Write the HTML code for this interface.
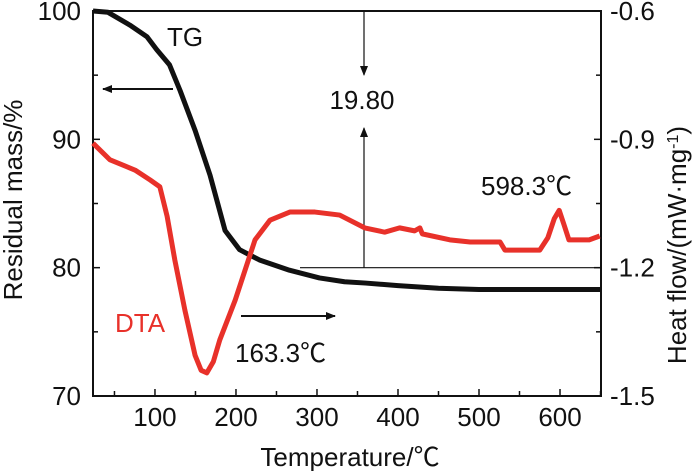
<!DOCTYPE html>
<html><head><meta charset="utf-8"><style>
body{margin:0;background:#fff}
svg text{font-family:"Liberation Sans","Noto Sans CJK SC",sans-serif;fill:#111}
</style></head><body>
<svg id="c" width="700" height="471"></svg>
<script>
const xTicks=[100,200,300,400,500,600];
const yLeftTicks=[70,80,90,100];
const yRightLabels=["-1.5","-1.2","-0.9","-0.6"];
const tgTemp=[23.5,42,69,90,102,118,131,149.5,168,186.5,204.5,229,266,303,334,360,400,450,500,550,600,630,650];
const tgMass=[100,99.9,98.9,98,97,95.8,93.8,90.7,87.2,82.9,81.4,80.6,79.8,79.2,78.9,78.8,78.6,78.4,78.3,78.3,78.3,78.3,78.3];
const dtaTemp=[23.5,44.5,75.5,94,106,115,124.5,137,149.5,157,164,172,180,199,223.5,242,266.5,297.5,328,359,383.5,402,420.5,427,430,464,489,526,532,575,585,593,599,605,611,636,649];
const dtaHeat=[-0.909,-0.948,-0.972,-0.995,-1.011,-1.08,-1.182,-1.30,-1.405,-1.44,-1.446,-1.42,-1.369,-1.276,-1.135,-1.089,-1.07,-1.07,-1.077,-1.107,-1.117,-1.107,-1.114,-1.107,-1.121,-1.135,-1.14,-1.14,-1.159,-1.159,-1.13,-1.085,-1.066,-1.10,-1.135,-1.135,-1.126];
const L=93,R=601,T=11,B=396;
const X=t=>L+(t-23.5)/(650.6-23.5)*(R-L);
const YL=v=>B-(v-70)/30*(B-T);
const YR=v=>B-(v+1.5)/0.9*(B-T);
const s=document.getElementById('c');const NS="http://www.w3.org/2000/svg";
function el(tag,a,txt){const e=document.createElementNS(NS,tag);for(const k in a)e.setAttribute(k,a[k]);if(txt!=null)e.textContent=txt;s.appendChild(e);return e;}
let e;
e=el('defs',{});e.innerHTML='<marker id="ah" markerWidth="10" markerHeight="8" refX="9" refY="4" orient="auto" markerUnits="userSpaceOnUse"><path d="M0,0L10,4L0,8z" fill="#111"/></marker>';
e=el('rect',{x:L,y:T,width:R-L,height:B-T,fill:'none',stroke:'#111','stroke-width':2});


for(let t=50;t<=650;t+=50){const x=X(t);if(x<L||x>R)continue;const len=t%100==0?7:5;
e=el('line',{x1:x,x2:x,y1:B,y2:B-len,stroke:'#111','stroke-width':1.5});

}
xTicks.forEach(t=>{e=el('text',{x:X(t),y:426,'font-size':26,'text-anchor':'middle'},t);

});
for(let v=70;v<=100;v+=5){const y=YL(v);
e=el('line',{x1:L,x2:L+(v%10==0?7:5),y1:y,y2:y,stroke:'#111','stroke-width':1.5});


e=el('line',{x1:R,x2:R-(v%10==0?7:5),y1:y,y2:y,stroke:'#111','stroke-width':1.5});

}
yLeftTicks.forEach(v=>{e=el('text',{x:81,y:YL(v)+9,'font-size':26,'text-anchor':'end'},v);

});
yRightLabels.forEach(v=>{e=el('text',{x:610,y:YR(+v)+9,'font-size':26},v);

});
e=el('text',{x:350,y:466,'font-size':26,'text-anchor':'middle'},'Temperature/℃');


e=el('text',{x:0,y:0,'font-size':26,'text-anchor':'middle',transform:'translate(22,200) rotate(-90)'},'Residual mass/%');


e=el('text',{x:0,y:0,'font-size':26,'text-anchor':'middle',transform:'translate(686,245) rotate(-90)'});
e.innerHTML='Heat flow/(mW·mg<tspan dy="-8" font-size="16">-1</tspan><tspan dy="8">)</tspan>';


e=el('line',{x1:300,x2:R,y1:YR(-1.2),y2:YR(-1.2),stroke:'#111','stroke-width':1.2});


e=el('line',{x1:364,x2:364,y1:T,y2:75,stroke:'#111','stroke-width':1.2,'marker-end':'url(#ah)'});


e=el('line',{x1:364,x2:364,y1:268,y2:128,stroke:'#111','stroke-width':1.2,'marker-end':'url(#ah)'});


e=el('text',{x:362,y:109,'font-size':26,'text-anchor':'middle'},'19.80');


e=el('line',{x1:173,x2:103,y1:89,y2:89,stroke:'#111','stroke-width':2,'marker-end':'url(#ah)'});


e=el('line',{x1:241,x2:335,y1:316,y2:316,stroke:'#111','stroke-width':2,'marker-end':'url(#ah)'});


e=el('text',{x:167,y:46,'font-size':26},'TG');


e=el('text',{x:115,y:332,'font-size':26,style:'fill:#e8312a'},'DTA');


e=el('text',{x:235,y:362,'font-size':26},'163.3℃');


e=el('text',{x:481,y:195,'font-size':26},'598.3℃');


e=el('polyline',{points:tgTemp.map((t,i)=>X(t)+','+YL(tgMass[i])).join(' '),fill:'none',stroke:'#111','stroke-width':5,'stroke-linejoin':'round'});


e=el('polyline',{points:dtaTemp.map((t,i)=>X(t)+','+YR(dtaHeat[i])).join(' '),fill:'none',stroke:'#e8312a','stroke-width':5,'stroke-linejoin':'round'});


</script>
</body></html>
